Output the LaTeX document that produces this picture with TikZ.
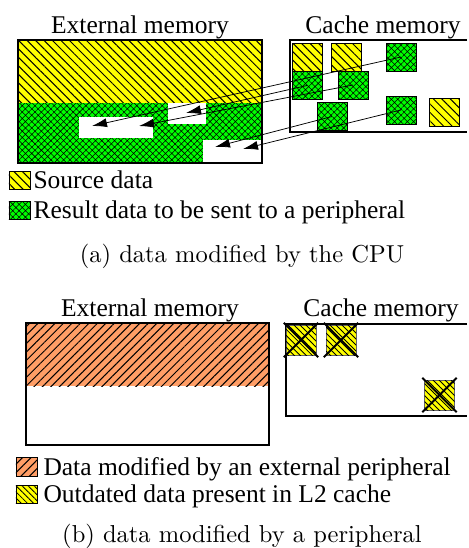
\documentclass[tikz,border=0pt]{standalone}
\usepackage{fontspec}
\newfontfamily\labelfont{Liberation Serif}
\usepackage{xcolor}
\usetikzlibrary{patterns.meta}
\usetikzlibrary{arrows.meta}
\definecolor{srcyellow}{RGB}{255,255,0}
\definecolor{resgreen}{RGB}{0,255,0}
\definecolor{modorange}{RGB}{255,158,102}
\tikzset{>=latex}
\tikzstyle{src} = [fill=srcyellow, postaction={pattern={Lines[angle=-45,distance=2.4pt,line width=0.4pt]}}]
\tikzstyle{old} = [fill=srcyellow, postaction={pattern={Lines[angle=-45,distance=1.7pt,line width=0.35pt]}}]
\tikzstyle{res} = [fill=resgreen, postaction={pattern={Hatch[angle=45,distance=1.8pt,line width=0.22pt]}}]
\tikzstyle{modif} = [fill=modorange, postaction={pattern={Lines[angle=45,distance=2.4pt,line width=0.4pt]}}]
\tikzstyle{blk} = [draw, line width=0.35pt, minimum width=12pt, minimum height=11.2pt, inner sep=0pt]
\tikzstyle{swatch} = [draw, line width=0.35pt, minimum width=8.4pt, minimum height=7.2pt, inner sep=0pt]
\tikzstyle{memframe} = [line width=0.7pt]
\tikzstyle{arrow} = [line width=0.3pt, -{Latex[length=6pt,width=3.6pt]}]
\tikzstyle{xmark} = [line width=0.8pt, shorten <=-1pt, shorten >=-1pt]
\tikzstyle{memtitle} = [anchor=base, inner sep=0pt, font=\labelfont\fontsize{10.2}{12}\selectfont]
\tikzstyle{keytext} = [anchor=base west, inner sep=0pt, font=\labelfont\fontsize{10.2}{12}\selectfont]
\tikzstyle{subcap} = [anchor=base, inner sep=0pt, font=\fontsize{9.8}{12}\selectfont]

\begin{document}
\begin{tikzpicture}[x=0.4pt, y=-0.4pt]
    \useasboundingbox (0,0) rectangle (468,548);

    % (a) external memory with source and result data
    \node[memtitle] (extA) at (140,33) {External memory};
    \path[src] (18,40) rectangle (262,103);
    \path[res] (18,103) rectangle (262,163);
    \fill[white] (79,117) rectangle (153,138);
    \fill[white] (168,103) rectangle (206,124);
    \fill[white] (203,140) rectangle (262,163);
    \draw[memframe] (18,40) rectangle (262,163);
    \coordinate (tipA1) at (92,126);
    \coordinate (tipA2) at (139,126);
    \coordinate (tipA3) at (186,113);
    \coordinate (tipA4) at (215,147);
    \coordinate (tipA5) at (243,149);

    % (a) cache memory
    \node[memtitle] (cacheA) at (383,33) {Cache memory};
    \node[blk, src] (srcA1) at (307,57) {};
    \node[blk, src] (srcA2) at (346.5,57) {};
    \node[blk, src] (srcA3) at (444.5,112) {};
    \node[blk, res] (resA1) at (307,85.5) {};
    \node[blk, res] (resA2) at (353,85) {};
    \node[blk, res] (resA3) at (401,57) {};
    \node[blk, res] (resA4) at (332,116.5) {};
    \node[blk, res] (resA5) at (401,110) {};
    \draw[memframe] (467,40) -- (290,40) -- (290,132) -- (467,132);

    % write back of the results
    \draw[arrow] (resA3.center) -- (tipA1);
    \draw[arrow] (resA2.center) -- (tipA2);
    \draw[arrow] (resA1.center) -- (tipA3);
    \draw[arrow] (resA4.center) -- (tipA4);
    \draw[arrow] (resA5.center) -- (tipA5);

    % (a) legend
    \node[swatch, src] (keySrc) at (19.5,180.5) {};
    \node[keytext] (keySrcText) at (33,188) {Source data};
    \node[swatch, res] (keyRes) at (19.5,210) {};
    \node[keytext] (keyResText) at (33,218) {Result data to be sent to a peripheral};
    \node[subcap] (capA) at (242,262) {(a) data modified by the CPU};

    % (b) external memory modified by a peripheral
    \node[memtitle] (extB) at (150,316) {External memory};
    \path[modif] (26,323) rectangle (269,386);
    \draw[memframe] (26,323) rectangle (269,445);

    % (b) cache memory with outdated lines
    \node[memtitle] (cacheB) at (381,316) {Cache memory};
    \draw[memframe] (467,324) -- (286,324) -- (286,416) -- (467,416);
    \node[blk, old, draw=black!60, minimum height=12pt] (oldB1) at (301,340) {};
    \node[blk, old, draw=black!60, minimum height=12pt] (oldB2) at (341,340) {};
    \node[blk, old, draw=black!60, minimum height=12pt] (oldB3) at (439.5,395) {};
    \foreach \b in {oldB1,oldB2,oldB3} {
        \draw[xmark] (\b.north west) -- (\b.south east);
        \draw[xmark] (\b.north east) -- (\b.south west);
    }

    % (b) legend
    \node[swatch, modif, minimum height=7.6pt] (keyMod) at (26.5,466.5) {};
    \node[keytext] (keyModText) at (43,475) {Data modified by an external peripheral};
    \node[swatch, old] (keyOld) at (26.5,494) {};
    \node[keytext] (keyOldText) at (43,502) {Outdated data present in L2 cache};
    \node[subcap] (capB) at (242,542) {(b) data modified by a peripheral};
\end{tikzpicture}
\end{document}
